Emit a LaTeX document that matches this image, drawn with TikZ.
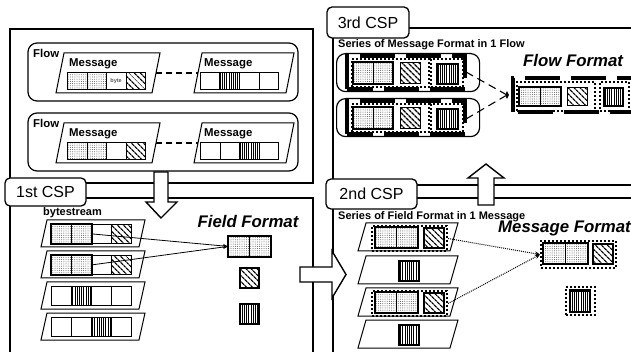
\documentclass[tikz,border=0pt]{standalone}
\usepackage{fontspec}
\setmainfont{Liberation Sans}
\usetikzlibrary{patterns.meta,arrows.meta,shapes.geometric}
\newcommand\bytefont{\bfseries\fontsize{5.5}{6}\selectfont}
\begin{document}
\begin{tikzpicture}[x=1pt,y=-1pt,
  panel/.style={line width=1.1pt},
  flowbox/.style={draw, line width=1.2pt, rounded corners=9pt, inner sep=0pt},
  plg/.style={draw, fill=white, line width=1pt, line join=miter},
  cell/.style={draw, line width=0.8pt, inner sep=0pt, anchor=north west},
  tcell/.style={cell, minimum width=19.5pt, minimum height=17pt},
  bcell/.style={cell, minimum width=20pt, minimum height=19pt},
  ccell/.style={cell, minimum width=21pt, minimum height=20pt},
  dotsfill/.style={pattern={Dots[distance=2.2pt,radius=0.5pt]}, pattern color=black!65},
  hatchfill/.style={pattern={Lines[angle=-45,distance=4pt,line width=1.4pt]}, pattern color=black},
  vlfill/.style={pattern={Lines[angle=90,distance=2.2pt,line width=0.6pt]}, pattern color=black},
  thickbox/.style={draw, line width=2.2pt},
  dotbox/.style={draw, line width=2pt, dash pattern=on 2pt off 2pt, inner sep=0pt, anchor=north west},
  flowframe/.style={draw, line width=3.2pt, dash pattern=on 35pt off 11pt},
  csplabel/.style={draw, fill=white, line width=1.3pt, rounded corners=5pt, inner sep=0pt,
    font=\fontsize{16}{16}\selectfont},
  blockarrow/.style={draw, fill=white, line width=1.4pt, line join=miter},
  lbl/.style={font=\bfseries\fontsize{11.4}{12}\selectfont, inner sep=0pt, anchor=west},
  slbl/.style={font=\bfseries\fontsize{11}{12}\selectfont, inner sep=0pt, anchor=west},
  fmttitle/.style={font=\bfseries\itshape\fontsize{16.8}{17}\selectfont, inner sep=0pt},
  dashconn/.style={line width=1.1pt, dash pattern=on 6pt off 4pt},
  longdash/.style={line width=1.1pt, dash pattern=on 8pt off 5pt},
  conn/.style={line width=0.8pt, -{Stealth[length=5pt,width=4pt]}},
  dotconn/.style={line width=1pt, dash pattern=on 1pt off 1pt, -{Stealth[length=5pt,width=4.5pt]}},
]
\useasboundingbox (0,0) rectangle (631,352);
\fill[white] (0,0) rectangle (631,352);

% ================= input flows =================
\draw[panel] (10,29) rectangle (313,183);

% flow A
\node[flowbox, minimum width=270pt, minimum height=58pt] (flowA) at (163,72) {};
\node[lbl] (flowAtxt) at (33,53) {Flow};
\draw[plg] (64,53) -- (160,53) -- (152,93) -- (56,93) -- cycle;
\node[lbl] (msgA1txt) at (69,64) {Message};
\node[tcell, dotsfill] (A1a) at (67,72) {};
\node[tcell, dotsfill] (A1b) at (86.5,72) {};
\node[tcell, font=\bytefont, text=black!65] (A1c) at (106,72) {byte};
\node[tcell, hatchfill] (A1d) at (125.5,72) {};
\draw[plg] (202,53) -- (294,53) -- (286,93) -- (194,93) -- cycle;
\node[lbl] (msgA2txt) at (204,64) {Message};
\node[tcell] (A2a) at (200,72) {};
\node[tcell, vlfill] (A2b) at (219.5,72) {};
\node[tcell] (A2c) at (239,72) {};
\node[tcell] (A2d) at (258.5,72) {};
\coordinate (msgA1e) at (156,73);
\coordinate (msgA2w) at (198,73);
\draw[dashconn] (msgA1e) -- (msgA2w);

% flow B
\node[flowbox, minimum width=270pt, minimum height=58pt] (flowB) at (163,142) {};
\node[lbl] (flowBtxt) at (33,123) {Flow};
\draw[plg] (64,123) -- (160,123) -- (152,163) -- (56,163) -- cycle;
\node[lbl] (msgB1txt) at (69,134) {Message};
\node[tcell, dotsfill] (B1a) at (67,142) {};
\node[tcell, dotsfill] (B1b) at (86.5,142) {};
\node[tcell] (B1c) at (106,142) {};
\node[tcell, hatchfill] (B1d) at (125.5,142) {};
\draw[plg] (202,123) -- (294,123) -- (286,163) -- (194,163) -- cycle;
\node[lbl] (msgB2txt) at (204,134) {Message};
\node[tcell] (B2a) at (200,142) {};
\node[tcell] (B2b) at (219.5,142) {};
\node[tcell, vlfill] (B2c) at (239,142) {};
\node[tcell] (B2d) at (258.5,142) {};
\coordinate (msgB1e) at (156,143);
\coordinate (msgB2w) at (198,143);
\draw[dashconn] (msgB1e) -- (msgB2w);

% ================= 1st CSP =================
\draw[panel] (10,360) -- (10,198) -- (313,198) -- (313,360);
\node[slbl] (bstxt) at (43,213) {bytestream};

\draw[plg] (47,220) -- (145,220) -- (139,247) -- (41,247) -- cycle;
\node[bcell, dotsfill] (P1a) at (51,224) {};
\node[bcell, dotsfill] (P1b) at (71,224) {};
\node[bcell] (P1c) at (91,224) {};
\node[bcell, hatchfill] (P1d) at (111,224) {};
\draw[line width=2.2pt] (P1a.north west) rectangle (P1b.south east);

\draw[plg] (47,251) -- (145,251) -- (139,278) -- (41,278) -- cycle;
\node[bcell, dotsfill] (P2a) at (51,255) {};
\node[bcell, dotsfill] (P2b) at (71,255) {};
\node[bcell] (P2c) at (91,255) {};
\node[bcell, hatchfill] (P2d) at (111,255) {};
\draw[line width=2.2pt] (P2a.north west) rectangle (P2b.south east);

\draw[plg] (47,282) -- (145,282) -- (139,309) -- (41,309) -- cycle;
\node[bcell] (P3a) at (51,286) {};
\node[bcell, vlfill] (P3b) at (71,286) {};
\node[bcell] (P3c) at (91,286) {};
\node[bcell] (P3d) at (111,286) {};

\draw[plg] (47,313) -- (145,313) -- (139,340) -- (41,340) -- cycle;
\node[bcell] (P4a) at (51,317) {};
\node[bcell] (P4b) at (71,317) {};
\node[bcell, vlfill] (P4c) at (91,317) {};
\node[bcell] (P4d) at (111,317) {};

\node[fmttitle] (fftxt) at (248,222) {Field Format};
\node[ccell, dotsfill] (ffa) at (228,236) {};
\node[ccell, dotsfill] (ffb) at (249,236) {};
\draw[line width=2.2pt] (ffa.north west) rectangle (ffb.south east);
\node[cell, thickbox, hatchfill, minimum width=19pt, minimum height=20pt] (ffh) at (239,267) {};
\node[cell, thickbox, line width=1.8pt, vlfill, minimum width=19pt, minimum height=20pt] (ffv) at (239,303) {};

\draw[conn] (P1b.east) -- (ffa.west);
\draw[conn] (P2b.east) -- (ffa.west);

% ================= 3rd and 2nd CSP frames =================
\draw[panel] (333,185) -- (333,28) -- (640,28);
\draw[panel] (333,185) -- (640,185);
\draw[panel] (333,360) -- (333,198) -- (640,198);

% ================= 2nd CSP =================
\draw[plg] (366,223) -- (458,223) -- (450,251) -- (358,251) -- cycle;
\node[dotbox, minimum width=75pt, minimum height=25pt] (mfA) at (371,225) {};
\node[ccell, dotsfill] (Q1a) at (375,227) {};
\node[ccell, dotsfill] (Q1b) at (396,227) {};
\draw[line width=2.2pt] (Q1a.north west) rectangle (Q1b.south east);
\node[cell, thickbox, hatchfill, minimum width=20pt, minimum height=20pt] (Q1h) at (423,227) {};

\draw[plg] (366,256) -- (458,256) -- (450,284) -- (358,284) -- cycle;
\node[cell, thickbox, vlfill, minimum width=20pt, minimum height=20pt] (Q2v) at (398,260) {};

\draw[plg] (366,288) -- (458,288) -- (450,316) -- (358,316) -- cycle;
\node[dotbox, minimum width=75pt, minimum height=25pt] (mfC) at (371,290) {};
\node[ccell, dotsfill] (Q3a) at (375,292) {};
\node[ccell, dotsfill] (Q3b) at (396,292) {};
\draw[line width=2.2pt] (Q3a.north west) rectangle (Q3b.south east);
\node[cell, thickbox, hatchfill, minimum width=20pt, minimum height=20pt] (Q3h) at (423,292) {};

\draw[plg] (366,320) -- (458,320) -- (450,348) -- (358,348) -- cycle;
\node[cell, thickbox, vlfill, minimum width=20pt, minimum height=20pt] (Q4v) at (398,324) {};

\node[slbl] (s2txt) at (338,217) {Series of Field Format in 1 Message};

\node[fmttitle, anchor=west] (mftxt) at (498,228) {Message Format};
\node[dotbox, minimum width=75pt, minimum height=27pt] (mfR) at (540,240) {};
\node[ccell, dotsfill, minimum width=22pt] (R1a) at (543,243) {};
\node[ccell, dotsfill, minimum width=22pt] (R1b) at (565,243) {};
\draw[line width=2.2pt] (R1a.north west) rectangle (R1b.south east);
\node[cell, thickbox, hatchfill, minimum width=20pt, minimum height=20pt] (R1h) at (592,243) {};
\node[dotbox, minimum width=29pt, minimum height=28pt] (mfS) at (565,286) {};
\node[cell, thickbox, vlfill, minimum width=20pt, minimum height=21pt] (R2v) at (569,289.5) {};

\draw[dotconn] (mfA.east) -- (mfR.west);
\draw[dotconn] (mfC.east) -- (mfR.west);

% ================= 3rd CSP =================
\node[slbl] (s3txt) at (338,45) {Series of Message Format in 1 Flow};

% flow C
\node[flowbox, anchor=north west, minimum width=143pt, minimum height=38pt] (flowC) at (336,53) {};
\draw[flowframe] (347,89) -- (347,56) -- (465,56) -- (465,89) -- cycle;
\node[dotbox, minimum width=77pt, minimum height=28pt] (fC1) at (351,58) {};
\node[dotbox, minimum width=32pt, minimum height=28pt] (fC2) at (430,58) {};
\node[cell, dotsfill, minimum width=19.5pt, minimum height=21pt] (U1a) at (353,62) {};
\node[cell, dotsfill, minimum width=19.5pt, minimum height=21pt] (U1b) at (372.5,62) {};
\draw[line width=2.2pt] (U1a.north west) rectangle (U1b.south east);
\node[cell, hatchfill, minimum width=20pt, minimum height=21pt] (U1h) at (400,62) {};
\node[cell, thickbox, vlfill, minimum width=21pt, minimum height=20pt] (U1v) at (435.5,63) {};

% flow D
\node[flowbox, anchor=north west, minimum width=143pt, minimum height=38pt] (flowD) at (336,98) {};
\draw[flowframe] (347,134) -- (347,101) -- (465,101) -- (465,134) -- cycle;
\node[dotbox, minimum width=77pt, minimum height=28pt] (fD1) at (351,103) {};
\node[dotbox, minimum width=32pt, minimum height=28pt] (fD2) at (430,103) {};
\node[cell, dotsfill, minimum width=19.5pt, minimum height=21pt] (V1a) at (353,107) {};
\node[cell, dotsfill, minimum width=19.5pt, minimum height=21pt] (V1b) at (372.5,107) {};
\draw[line width=2.2pt] (V1a.north west) rectangle (V1b.south east);
\node[cell, hatchfill, minimum width=20pt, minimum height=21pt] (V1h) at (400,107) {};
\node[cell, thickbox, vlfill, minimum width=21pt, minimum height=20pt] (V1v) at (435.5,108) {};

\node[diamond, fill, inner sep=0pt, minimum width=4pt, minimum height=8pt] (join) at (507,95) {};
\coordinate (flowCe) at (466,72);
\coordinate (flowDe) at (466,119);
\draw[longdash] (flowCe) -- (join);
\draw[longdash] (flowDe) -- (join);

\node[fmttitle] (flfmt) at (573,60) {Flow Format};
\draw[flowframe] (513,112) -- (513,78) -- (660,78) -- (660,112) -- cycle;
\node[dotbox, minimum width=78pt, minimum height=29pt] (fE1) at (516,81) {};
\node[dotbox, minimum width=29pt, minimum height=29pt] (fE2) at (599,81) {};
\node[cell, dotsfill, minimum width=20.5pt, minimum height=18pt] (W1a) at (519,87) {};
\node[cell, dotsfill, minimum width=20.5pt, minimum height=18pt] (W1b) at (539.5,87) {};
\draw[line width=2.2pt] (W1a.north west) rectangle (W1b.south east);
\node[cell, hatchfill, minimum width=20pt, minimum height=18pt] (W1h) at (567,87) {};
\node[cell, thickbox, vlfill, minimum width=19pt, minimum height=18pt] (W1v) at (603,87) {};

% ================= block arrows between stages =================
\draw[blockarrow] (154,172) -- (168,172) -- (168,202) -- (177,202) -- (161,218) -- (146,202) -- (154,202) -- cycle;
\draw[blockarrow] (300,267) -- (332,267) -- (332,251) -- (346,274.5) -- (332,298) -- (332,282) -- (300,282) -- cycle;
\draw[blockarrow] (478,205) -- (478,178) -- (468,178) -- (486,164) -- (504,178) -- (494,178) -- (494,205) -- cycle;

% ================= stage labels =================
\node[csplabel, minimum width=81pt, minimum height=28pt] (csp1) at (45.5,192) {1st CSP};
\node[csplabel, minimum width=91pt, minimum height=30pt] (csp2) at (371.5,194) {2nd CSP};
\node[csplabel, minimum width=82pt, minimum height=31pt] (csp3) at (368,22.5) {3rd CSP};
\end{tikzpicture}
\end{document}
